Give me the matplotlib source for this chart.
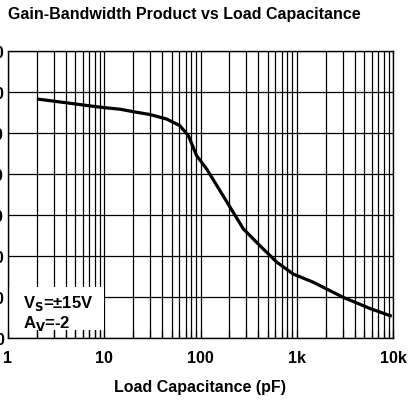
import matplotlib.pyplot as plt
from matplotlib.patches import Rectangle
import numpy as np

plt.rcParams['font.family'] = ['Liberation Sans', 'DejaVu Sans']
plt.rcParams['font.weight'] = 'bold'

# load capacitance (pF) vs gain-bandwidth product
cap = [2, 9, 14.6, 20, 30, 44.5, 61, 75, 91, 116, 203, 279, 415, 620, 920, 1486, 3050, 5770, 9700]
gbw = [58.3, 56.3, 55.8, 55.2, 54.5, 53.4, 51.8, 49.3, 44.5, 41.2, 31.9, 26.6, 22.5, 18.5, 15.6, 13.6, 9.9, 7.2, 5.3]

x_ticks = [1, 10, 100, 1000, 10000]
x_labels = ['1', '10', '100', '1k', '10k']
y_ticks = [0, 10, 20, 30, 40, 50, 60, 70]

fig = plt.figure(figsize=(4.09, 4.02), dpi=100)
ax = fig.add_axes([8/409, 63/402, 385/409, 287/402])

# grid drawn by hand so the note box can sit above it
minor = [m * d for d in [1, 10, 100, 1000] for m in range(2, 10)]
for v in x_ticks + minor:
    ax.axvline(v, color='black', lw=0.9, zorder=1)
for v in y_ticks:
    ax.axhline(v, color='black', lw=0.9, zorder=1)

ax.plot(cap, gbw, color='black', lw=2.3, zorder=4, solid_capstyle='butt')

ax.set_xscale('log')
ax.set_xlim(1, 10000)
ax.set_ylim(0, 70)
ax.set_xticks(x_ticks)
ax.set_xticklabels(x_labels)
ax.set_xticks(minor, minor=True)
ax.set_xticklabels([], minor=True)
ax.set_yticks(y_ticks)
ax.tick_params(axis='x', which='both', direction='in', length=6, width=0.9,
               labelsize=11.5, pad=9)
ax.tick_params(axis='y', which='both', length=0, labelsize=11.5, pad=3)
for lab in ax.get_xticklabels() + ax.get_yticklabels():
    lab.set_fontweight('bold')
for s in ax.spines.values():
    s.set_linewidth(1.0)

# white note box
box = Rectangle((1, 2), 9.0, 10.4, facecolor='white', edgecolor='none', zorder=2)
ax.add_patch(box)
ax.text(1.42, 8.7, r'V$_\mathbf{S}$=±15V', fontsize=12, fontweight='bold', va='center', zorder=5)
ax.text(1.42, 3.9, r'A$_\mathbf{V}$=-2', fontsize=12, fontweight='bold', va='center', zorder=5)

ax.set_xlabel('Load Capacitance (pF)', fontsize=11.5, fontweight='bold', labelpad=10)
fig.text(184/409, 1 - 14/402, 'Gain-Bandwidth Product vs Load Capacitance',
         ha='center', va='center', fontsize=11.5, fontweight='bold')

fig.savefig('out.png', dpi=100)
